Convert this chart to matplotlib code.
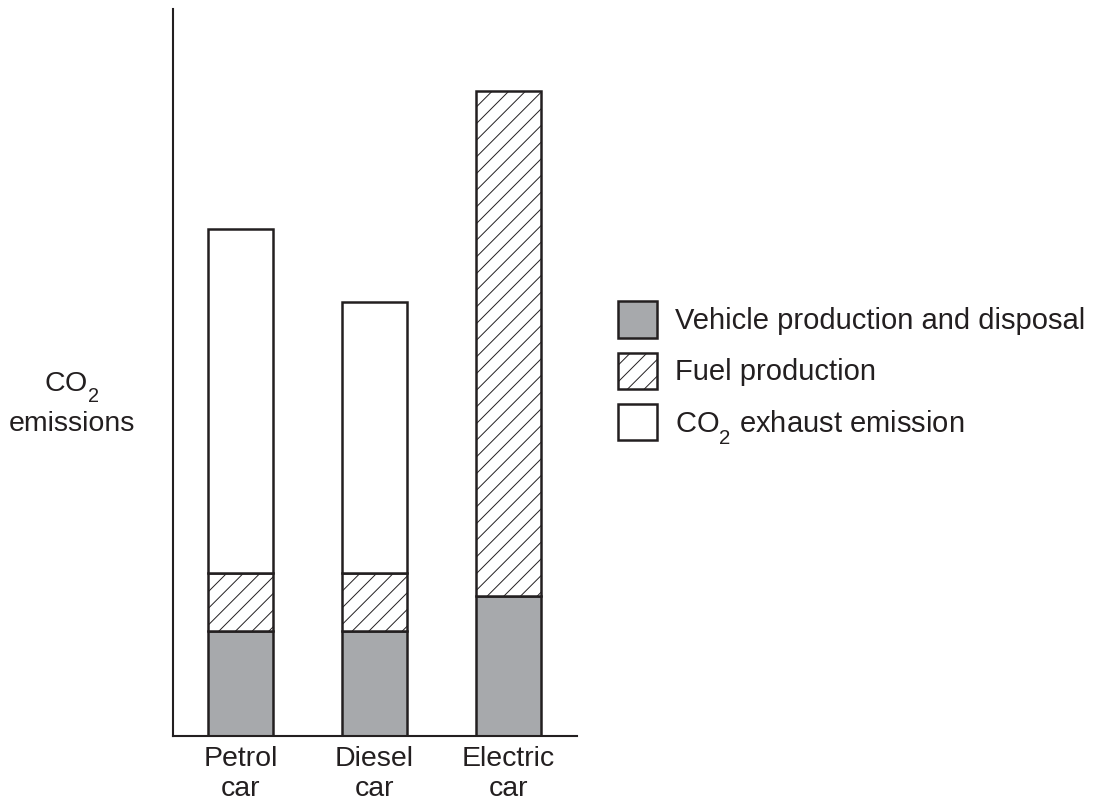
import matplotlib
matplotlib.use('Agg')
import matplotlib.pyplot as plt

# data (relative units; no scale on the axis)
cars = ['Petrol\ncar', 'Diesel\ncar', 'Electric\ncar']
vehicle = [105, 105, 140]
fuel = [58, 58, 505]
exhaust = [344, 271, 0]

series_labels = ['Vehicle production and disposal', 'Fuel production',
                 'CO$_2$ exhaust emission']
ylabel = 'CO$_2$\nemissions'

ink = '#231f20'
grey = '#a7a9ac'

plt.rcParams['font.family'] = ['Liberation Sans', 'DejaVu Sans']
plt.rcParams['mathtext.fontset'] = 'custom'
plt.rcParams['mathtext.rm'] = 'Liberation Sans'
plt.rcParams['mathtext.it'] = 'Liberation Sans'
plt.rcParams['hatch.linewidth'] = 0.7
plt.rcParams['hatch.color'] = ink

# subscript sits lower in the original artwork
try:
    import matplotlib._mathtext as _mt
    _mt.FontConstantsBase.sub1 = 0.75
except Exception:
    pass

fig = plt.figure(figsize=(10.94, 8.01), dpi=100)
ax = fig.add_axes([0.1581, 0.0811, 0.3693, 0.9076])

x = list(range(len(cars)))
w = 0.485
lw = 1.8

b1 = ax.bar(x, vehicle, w, color=grey, edgecolor=ink, linewidth=lw,
            label=series_labels[0])
b2 = ax.bar(x, fuel, w, bottom=vehicle, color='white', edgecolor=ink,
            linewidth=lw, hatch='//', label=series_labels[1])
base2 = [a + b for a, b in zip(vehicle, fuel)]
ex_x = [xi for xi, e in zip(x, exhaust) if e > 0]
ex_h = [e for e in exhaust if e > 0]
ex_b = [b for b, e in zip(base2, exhaust) if e > 0]
b3 = ax.bar(ex_x, ex_h, w, bottom=ex_b, color='white', edgecolor=ink,
            linewidth=lw, label=series_labels[2])

ax.set_xlim(-0.504, 2.511)
ax.set_ylim(0, 727)

for s in ['top', 'right']:
    ax.spines[s].set_visible(False)
for s in ['left', 'bottom']:
    ax.spines[s].set_linewidth(1.5)
    ax.spines[s].set_color(ink)

ax.set_yticks([])
ax.set_xticks(x)
ax.set_xticklabels(cars, fontsize=20.5, color=ink, linespacing=1.22)
ax.tick_params(axis='x', length=0, pad=7)

fig.text(72 / 1094, 1 - 404 / 801, ylabel, ha='center', va='center',
         fontsize=20.5, color=ink, linespacing=1.3)

leg = ax.legend(handles=[b1, b2, b3], loc='center left',
                bbox_to_anchor=(618 / 1094, 1 - 373.5 / 801),
                bbox_transform=fig.transFigure, frameon=False,
                fontsize=21, handlelength=1.35, handleheight=1.55,
                handletextpad=0.6, labelspacing=0.5, borderpad=0,
                borderaxespad=0)
for t in leg.get_texts():
    t.set_color(ink)

fig.savefig('out.png', dpi=100, facecolor='white')
